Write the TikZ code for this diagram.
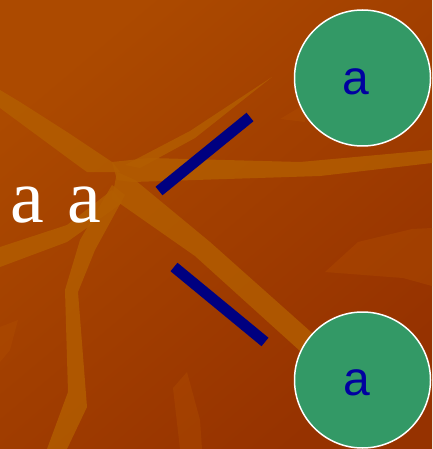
\documentclass[tikz,border=0pt]{standalone}
\usepackage{fontspec}
\setmainfont{Liberation Serif}
\newfontfamily\sansf{Liberation Sans}
\definecolor{bgA}{HTML}{AC4A00}
\definecolor{bgB}{HTML}{963200}
\definecolor{streak}{HTML}{B35E00}
\definecolor{faint}{HTML}{B04E00}
\definecolor{circfill}{HTML}{339966}
\definecolor{txtblue}{HTML}{0000A0}
\definecolor{navybar}{HTML}{000080}
\begin{document}
\begin{tikzpicture}[x=1pt,y=-1pt,
 streakfill/.style={fill=streak, opacity=0.8},
 faintfill/.style={fill=faint, opacity=0.4},
 circ/.style={circle, fill=circfill, draw=white, line width=1.5pt, minimum size=136pt, inner sep=0pt},
 bar/.style={draw=navybar, line width=11pt},
 ctext/.style={text=txtblue, font=\sansf\fontsize{48}{48}\selectfont, inner sep=0pt},
 ltext/.style={text=white, font=\rmfamily\fontsize{76}{76}\selectfont, inner sep=0pt}]
\useasboundingbox (0,0) rectangle (432,449);
\shade[top color=bgA, bottom color=bgB, shading angle=40] (0,0) rectangle (432,449);
% faint shapes
\fill[faintfill] (325,272) -- (358,242) -- (412,229) -- (432,228) -- (432,286) -- (403,278) -- cycle;
\fill[faintfill] (173,388) -- (187,372) -- (200,420) -- (202,449) -- (180,449) -- cycle;
\fill[faintfill] (0,327) -- (18,320) -- (10,350) -- (0,362) -- cycle;
\fill[faintfill] (280,119) -- (305,104) -- (305,122) -- cycle;
% streaks
\fill[streakfill] (0,90) -- (20,102) -- (67,132) -- (112,162) -- (120,172) -- (87,172) -- (80,167) -- (0,108) -- cycle;
\fill[streakfill] (112,162) -- (150,158) -- (300,162) -- (432,150) -- (432,163) -- (320,176) -- (133,182) -- (117,180) -- cycle;
\fill[streakfill] (125,165) -- (190,131) -- (272,77) -- (195,138) -- (140,168) -- cycle;
\fill[streakfill] (117,172) -- (135,180) -- (210,242) -- (320,340) -- (310,360) -- (195,256) -- (112,198) -- cycle;
\fill[streakfill] (0,247) -- (67,225) -- (112,190) -- (122,203) -- (67,242) -- (0,267) -- cycle;
\fill[streakfill] (112,185) -- (125,195) -- (95,250) -- (78,292) -- (87,407) -- (67,449) -- (47,449) -- (68,392) -- (65,290) -- (80,240) -- cycle;
% bars
\coordinate (b1s) at (159,191);
\coordinate (b1e) at (250,117);
\coordinate (b2s) at (174,267);
\coordinate (b2e) at (265,342);
\draw[bar] (b1s) -- (b1e);
\draw[bar] (b2s) -- (b2e);
% circles
\node[circ] (c1) at (362.5,78) {};
\node[circ] (c2) at (362.5,380) {};
\node[ctext] (t1) at (356,81.5) {a};
\node[ctext] (t2) at (356.5,383) {a};
% left text
\node[ltext] (lt) at (56,205) {a\hspace{24pt}a};
\end{tikzpicture}
\end{document}
